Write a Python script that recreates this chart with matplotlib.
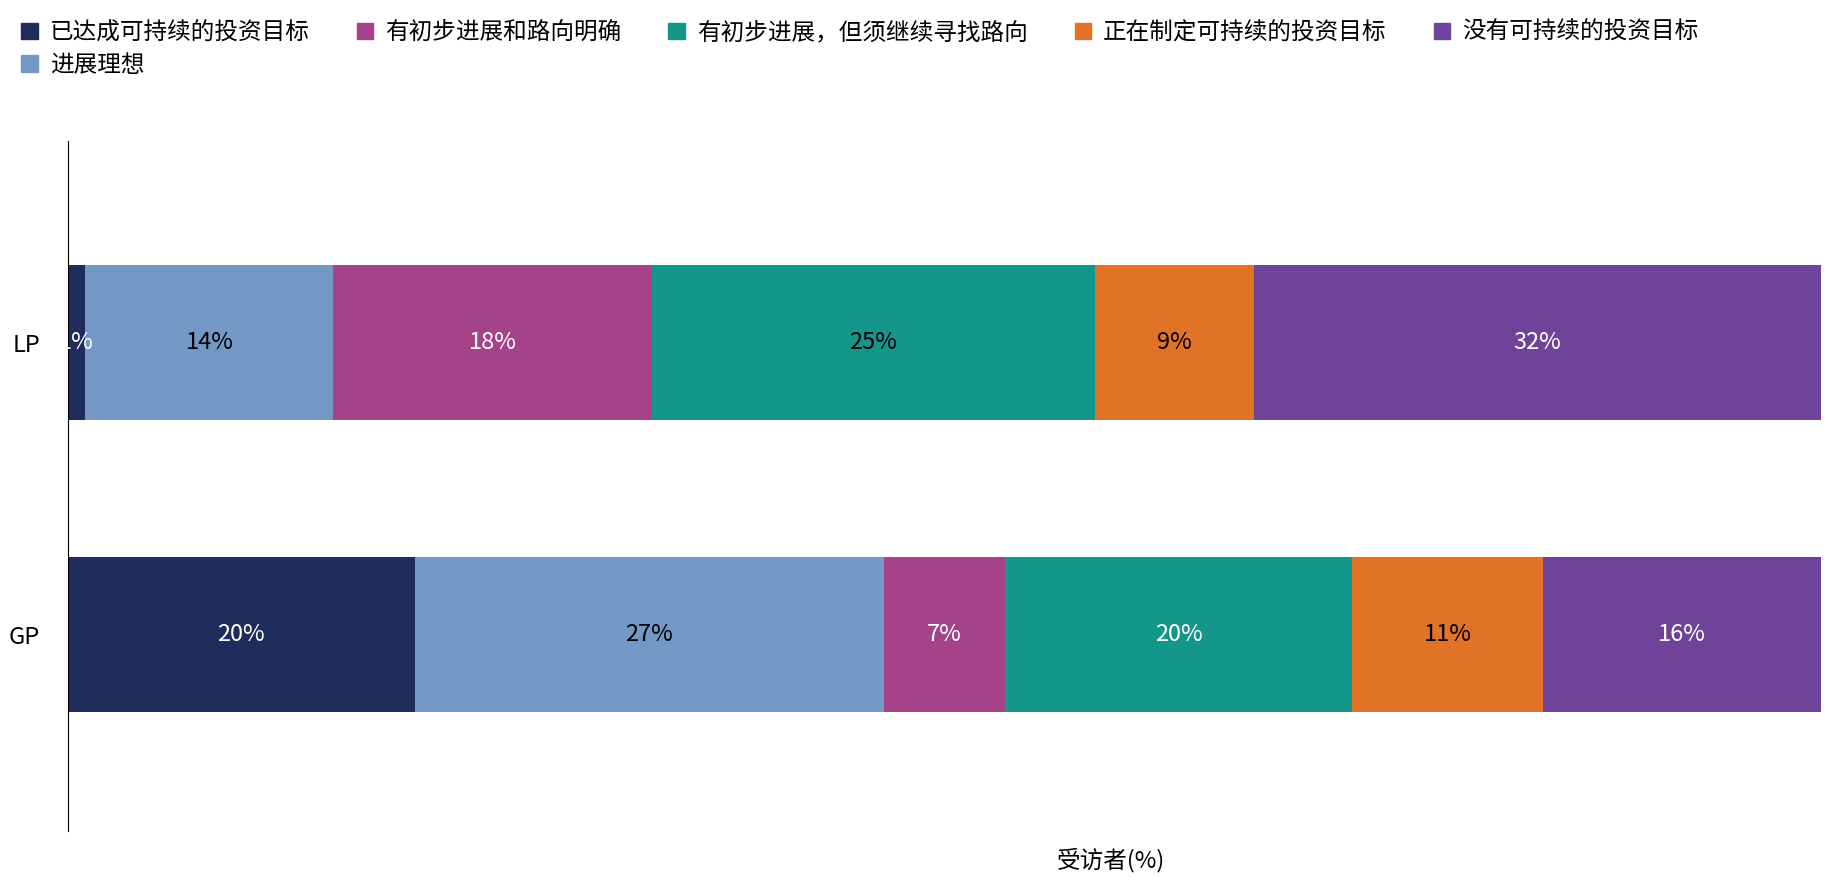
import matplotlib
matplotlib.use("Agg")
import matplotlib.pyplot as plt
from matplotlib.patches import Patch
import numpy as np

plt.rcParams['font.family'] = ['Noto Sans CJK SC', 'DejaVu Sans']

groups = ["LP", "GP"]
series = ["已达成可持续的投资目标", "进展理想", "有初步进展和路向明确",
          "有初步进展，但须继续寻找路向", "正在制定可持续的投资目标", "没有可持续的投资目标"]
values = {
    "LP": [1, 14, 18, 25, 9, 32],
    "GP": [20, 27, 7, 20, 11, 16],
}
colors = ["#1f2d5c", "#7498c6", "#a4428a", "#14968a", "#e07325", "#70439a"]
label_colors = {
    "LP": ["white", "black", "white", "black", "black", "white"],
    "GP": ["white", "black", "white", "white", "black", "white"],
}

fig = plt.figure(figsize=(18.3, 8.8), dpi=100)
ax = fig.add_axes([0.037, 0.056, 0.958, 0.784])
ypos = {"LP": 1, "GP": 0}
for g in groups:
    v = np.array(values[g], float)
    w = v / v.sum() * 100
    left = 0
    for i, (wi, vi) in enumerate(zip(w, values[g])):
        ax.barh(ypos[g], wi, left=left, height=0.53, color=colors[i], edgecolor='none')
        ax.text(left + wi / 2, ypos[g], f"{vi}%", ha='center', va='center',
                fontsize=17, color=label_colors[g][i], fontweight='light')
        left += wi
ax.set_xlim(0, 100)
ax.set_ylim(-0.67, 1.69)
ax.set_yticks([1, 0])
ax.set_yticklabels(groups, fontsize=17)
ax.tick_params(axis='y', length=0, pad=20)
ax.set_xticks([])
for s in ["top", "right", "bottom"]:
    ax.spines[s].set_visible(False)
ax.spines["left"].set_linewidth(0.8)
ax.set_xlabel("受访者(%)", fontsize=17, labelpad=10)
ax.xaxis.set_label_coords(0.595, -0.025)

handles = [Patch(color=c, label=s) for c, s in zip(colors, series)]
fig.legend(handles=handles, loc='upper left', bbox_to_anchor=(0.0, 1.0), ncol=5,
           frameon=False, fontsize=17, handlelength=0.7, handleheight=0.7,
           handletextpad=0.5, columnspacing=2.0, labelspacing=0.4)
fig.savefig("out.png", dpi=100)
